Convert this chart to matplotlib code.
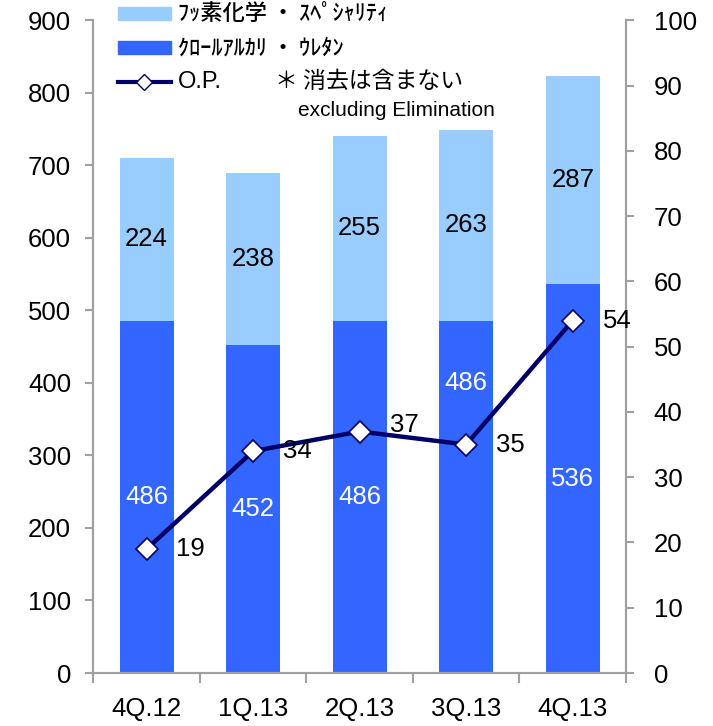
import numpy as np
import matplotlib
matplotlib.use('Agg')
import matplotlib.pyplot as plt
from matplotlib.lines import Line2D
from matplotlib.patches import Rectangle

plt.rcParams['font.family'] = ['Liberation Sans', 'Noto Sans CJK JP', 'DejaVu Sans']

# data
quarters = ['4Q.12', '1Q.13', '2Q.13', '3Q.13', '4Q.13']
chlor_alkali = [486, 452, 486, 486, 536]
fluoro = [224, 238, 255, 263, 287]
op = [19, 34, 37, 35, 54]

light_blue = '#99CCFF'
blue = '#3366FF'
navy = '#000066'
gray = '#A0A0A0'
fs = 18.5

fig = plt.figure(figsize=(7.13, 7.26), dpi=100)
ax = fig.add_axes([0.131, 0.073, 0.747, 0.899])
ax2 = ax.twinx()

x = np.arange(len(quarters))
ax.bar(x, chlor_alkali, width=0.51, color=blue, zorder=2)
ax.bar(x, fluoro, width=0.51, bottom=chlor_alkali, color=light_blue, zorder=2)

# bar labels
for i in range(len(x)):
    ax.text(x[i], chlor_alkali[i] + fluoro[i] / 2, str(fluoro[i]),
            ha='center', va='center', fontsize=fs, color='black', zorder=3)
    yb = chlor_alkali[i] / 2
    if i == 3:
        yb = 400  # moved up to clear the line
    ax.text(x[i], yb, str(chlor_alkali[i]), ha='center', va='center',
            fontsize=fs, color='white', zorder=3)

ax.set_xlim(-0.5, len(x) - 0.5)
ax.set_ylim(0, 900)
ax.set_yticks(np.arange(0, 901, 100))
ax.set_xticks(np.arange(-0.5, len(x), 1.0))
ax.set_xticklabels([])
ax.set_xticks(x, minor=True)
ax.set_xticklabels(quarters, minor=True, fontsize=fs)
ax.tick_params(axis='x', which='minor', length=0, pad=17)
ax.tick_params(axis='x', which='major', direction='out', length=7, color=gray, width=1.5)
ax.tick_params(axis='y', direction='out', length=6, color=gray, width=1.5, labelsize=fs, pad=10)

ax2.set_ylim(0, 100)
ax2.set_yticks(np.arange(0, 101, 10))
ax2.tick_params(axis='y', direction='out', length=6, color=gray, width=1.5, labelsize=fs, pad=14)

for a in (ax, ax2):
    a.spines['top'].set_visible(False)
    for s in ('left', 'right', 'bottom'):
        a.spines[s].set_color(gray)
        a.spines[s].set_linewidth(1.5)

ax2.plot(x, op, color=navy, lw=3.2, marker='D', markersize=11,
         markerfacecolor='white', markeredgecolor=navy, markeredgewidth=1.2, zorder=4)
offsets = [(0.28, 0), (0.28, 0), (0.28, 1), (0.28, 0), (0.28, 0)]
for i in range(len(x)):
    ax2.text(x[i] + offsets[i][0], op[i] + offsets[i][1], str(op[i]),
             ha='left', va='center', fontsize=fs, color='black', zorder=5)

ax.set_zorder(ax2.get_zorder() - 1)
ax2.patch.set_visible(False)

# legend drawn by hand
fig.patches.append(Rectangle((118 / 713, 1 - 20 / 726), 53 / 713, 13 / 726,
                             transform=fig.transFigure, color=light_blue))
fig.patches.append(Rectangle((118 / 713, 1 - 54 / 726), 53 / 713, 13 / 726,
                             transform=fig.transFigure, color=blue))
fig.lines.append(Line2D([118 / 713, 144 / 713, 171 / 713], [1 - 82 / 726] * 3,
                        transform=fig.transFigure, color=navy, lw=3,
                        marker='D', markevery=[1], markersize=8,
                        markerfacecolor='white', markeredgecolor=navy))
fig.text(178 / 713, 1 - 14 / 726, 'ﾌｯ素化学 ・ ｽﾍﾟｼｬﾘﾃｨ', fontsize=16, weight='medium',
         family=['Noto Sans CJK JP'], va='center', ha='left')
fig.text(178 / 713, 1 - 48 / 726, 'ｸﾛｰﾙｱﾙｶﾘ ・ ｳﾚﾀﾝ', fontsize=16, weight='medium',
         family=['Noto Sans CJK JP'], va='center', ha='left')
fig.text(178 / 713, 1 - 82 / 726, 'O.P.', fontsize=17, va='center', ha='left')
fig.text(275 / 713, 1 - 82 / 726, '＊ 消去は含まない', fontsize=16.5,
         family=['Noto Sans CJK JP', 'Liberation Sans'], va='center', ha='left')
fig.text(298 / 713, 1 - 110 / 726, 'excluding Elimination', fontsize=15,
         va='center', ha='left')

fig.savefig('out.png', dpi=100)
